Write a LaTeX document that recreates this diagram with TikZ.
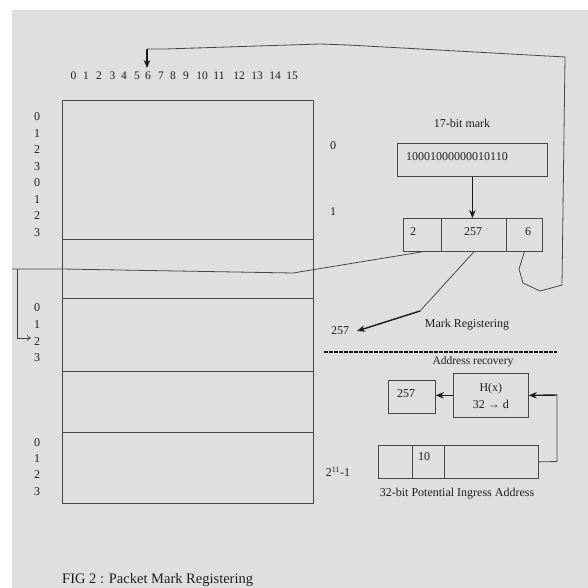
\documentclass[tikz,border=0pt]{standalone}
\usepackage{fontspec}
\setmainfont{Liberation Serif}
\usetikzlibrary{arrows.meta}
\definecolor{bg}{RGB}{223,223,223}
\definecolor{txt}{RGB}{30,30,30}
\begin{document}
\begin{tikzpicture}[x=1pt,y=-1pt,
  font=\fontsize{12}{14}\selectfont, text=txt,
  ln/.style={draw=black!72, line width=0.8pt},
  box/.style={ln, rectangle, inner sep=0pt, anchor=north west},
  lbl/.style={inner sep=0pt, anchor=center},
  arr/.style={-{Stealth[length=8pt,width=6.5pt]}, line width=1.4pt, draw=black!90},
  thinarr/.style={-{To[length=4pt,width=6pt]}, line width=0.6pt, draw=black!75}]
\useasboundingbox (0,0) rectangle (588,588);
\fill[bg] (12,10) rectangle (588,588);

% main table
\node[box, minimum width=251pt, minimum height=139pt] (row1) at (62,100) {};
\node[box, minimum width=251pt, minimum height=59pt]  (row2) at (62,239) {};
\node[box, minimum width=251pt, minimum height=73pt]  (row3) at (62,298) {};
\node[box, minimum width=251pt, minimum height=61pt]  (row4) at (62,371) {};
\node[box, minimum width=251pt, minimum height=71pt]  (row5) at (62,432) {};

% top column numbers
\foreach \t/\x [count=\i] in {0/73.5,1/86,2/99,3/112.5,4/124,5/137,6/148,7/161,8/173,9/186,10/202,11/219,12/239,13/257,14/275,15/292}
  \node[lbl, font=\fontsize{11.5}{13}\selectfont] (col\i) at (\x,76) {\t};

% left row labels
\foreach \t/\y [count=\i] in {0/117,1/133.5,2/150,3/166.5,0/183,1/199.5,2/216,3/232.5}
  \node[lbl] (la\i) at (37,\y) {\t};
\foreach \t/\y [count=\i] in {0/308,1/325,2/342,3/358}
  \node[lbl] (lb\i) at (37,\y) {\t};
\foreach \t/\y [count=\i] in {0/443,1/459,2/475,3/492}
  \node[lbl] (lc\i) at (37,\y) {\t};

% right labels
\node[lbl] (r0) at (333,146) {0};
\node[lbl] (r1) at (333,212) {1};
\node[lbl] (r257) at (340,331) {257};
\node[lbl] (rlast) at (338,472) {2\textsuperscript{11}-1};

% mark
\node[lbl] (marklbl) at (462,123) {17-bit mark};
\node[box, minimum width=150pt, minimum height=33pt] (mark) at (397,143) {};
\node[inner sep=0pt, anchor=west] (marktxt) at (406,157) {10001000000010110};

% three cells
\node[box, minimum width=38pt, minimum height=33pt] (c2) at (403,218) {};
\node[box, minimum width=65pt, minimum height=33pt] (c257) at (441,218) {};
\node[box, minimum width=36pt, minimum height=33pt] (c6) at (506,218) {};
\node[lbl] (t2) at (413,232) {2};
\node[lbl] (t257) at (473,232) {257};
\node[lbl] (t6) at (528,232) {6};

\draw[arr] (mark.south) -- (mark.south |- c257.north);

% to 257 label
\coordinate (k1) at (420,311);
\coordinate (k2) at (357,331);
\draw[ln] (c257.south) -- (k1);
\draw[arr] (k1) -- (k2);
\node[lbl] (mr) at (467,325) {Mark Registering};

% line from left into cell 2
\coordinate (p0) at (12,269);
\coordinate (p1) at (293,273);
\draw[ln] (p0) -- (row2.west |- p0) -- (p1) -- (c2.south);
\coordinate (q0) at (17,269);
\coordinate (q1) at (17,338);
\coordinate (q2) at (31,338);
\draw[thinarr] (q0) -- (q1) -- (q2);

% loop from cell 6 to column 6
\coordinate (s1) at (519,269);
\coordinate (s2) at (523,283);
\coordinate (s3) at (540,291);
\coordinate (s4) at (562,285);
\coordinate (s5) at (565,57);
\coordinate (s6) at (348,45);
\coordinate (s7) at (320,44);
\coordinate (s8) at (165,49);
\coordinate (s9) at (147,49);
\coordinate (s10) at (147,68);
\draw[ln] (c6.south) -- (s1) -- (s2) -- (s3) -- (s4) -- (s5) -- (s6) -- (s7) -- (s8) -- (s9);
\draw[arr] (s9) -- (s10);

% dashed separator
\coordinate (d0) at (324,352);
\coordinate (d1) at (557,352);
\draw[line width=1.3pt, black!90, dash pattern=on 3.5pt off 1.5pt] (d0) -- (d1);
\node[lbl, font=\fontsize{11.5}{13}\selectfont] (ar) at (473,362) {Address recovery};

% address recovery
\node[box, minimum width=75pt, minimum height=44pt, align=center, font=\fontsize{12}{17}\selectfont] (hx) at (453,373) {H(x)\\32 → d};
\node[box, minimum width=47pt, minimum height=33pt] (res) at (388,380) {};
\node[lbl] (restxt) at (406,394) {257};
\draw[arr] (hx.west) -- (hx.west -| res.east);

\node[box, minimum width=34pt, minimum height=33pt] (a1) at (378,445) {};
\node[box, minimum width=32pt, minimum height=33pt] (a2) at (412,445) {};
\node[box, minimum width=94pt, minimum height=33pt] (a3) at (444,445) {};
\node[lbl] (a2t) at (424,457) {10};
\coordinate (e1) at (557,461.5);
\coordinate (e2) at (557,395);
\draw[ln] (a3.east) -- (e1) -- (e2);
\draw[arr] (e2) -- (hx.east);
\node[lbl] (addrlbl) at (457,494) {32-bit Potential Ingress Address};

% caption
\node[inner sep=0pt, anchor=base west, font=\fontsize{14.5}{16}\selectfont] (cap) at (62,583) {FIG 2 : Packet Mark Registering};
\end{tikzpicture}
\end{document}
